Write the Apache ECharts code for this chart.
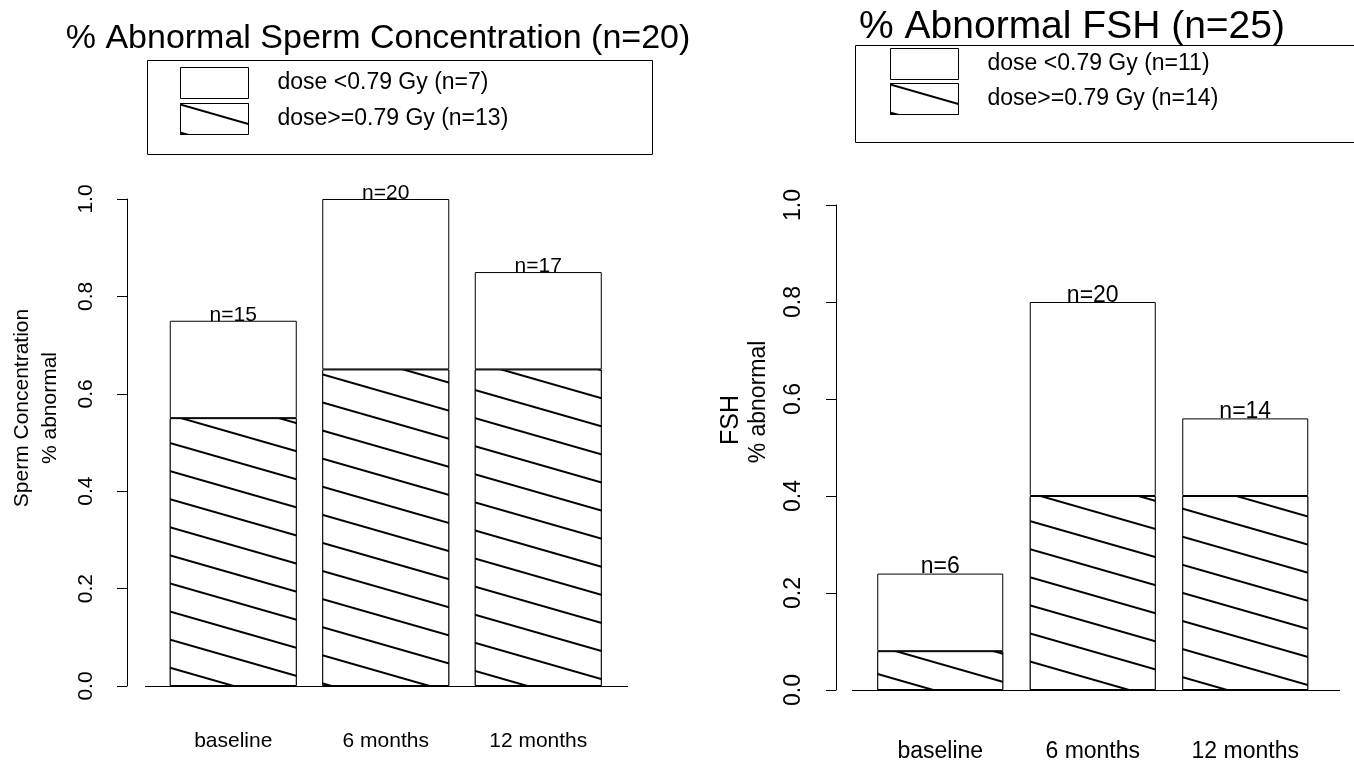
<!DOCTYPE html>
<html>
<head>
<meta charset="utf-8">
<script src="https://cdn.jsdelivr.net/npm/echarts@6/dist/echarts.min.js"></script>
<style>html,body{margin:0;padding:0;background:#fff}#c{width:1354px;height:763px}</style>
</head>
<body>
<div id="c"></div>
<script>
const categories = ['baseline', '6 months', '12 months'];
// Sperm concentration panel (fractions of n=20)
const spermHigh = [0.55, 0.65, 0.65];   // dose>=0.79 Gy (hatched, bottom)
const spermLow = [0.20, 0.35, 0.20];    // dose <0.79 Gy (white, top)
const spermN = ['n=15', 'n=20', 'n=17'];
// FSH panel (fractions of n=25)
const fshHigh = [0.08, 0.40, 0.40];
const fshLow = [0.16, 0.40, 0.16];
const fshN = ['n=6', 'n=20', 'n=14'];
const yTickLabels = ['0.0', '0.2', '0.4', '0.6', '0.8', '1.0'];

const spermNames = ['dose <0.79 Gy (n=7)', 'dose>=0.79 Gy (n=13)'];
const fshNames = ['dose <0.79 Gy (n=11)', 'dose>=0.79 Gy (n=14)'];

const FONT = 'Liberation Sans';
const hatch = {
  symbol: 'rect', symbolSize: 1, color: '#000', backgroundColor: '#fff',
  dashArrayX: [1, 0], dashArrayY: [1.4, 24.6], rotation: 16 * Math.PI / 180
};

function yAxisFor(gridIndex, offset, fs, margin) {
  return {
    type: 'value', gridIndex, min: 0, max: 1, interval: 0.2, offset,
    splitLine: {show: false},
    axisLine: {show: true, lineStyle: {color: '#000', width: 1}},
    axisTick: {show: true, length: 10, lineStyle: {color: '#000', width: 1}},
    axisLabel: {
      rotate: 90, margin, color: '#000', fontFamily: FONT, fontSize: fs,
      formatter: v => yTickLabels[Math.round(v / 0.2)]
    }
  };
}
function xAxisFor(gridIndex, margin, fs) {
  return {
    type: 'category', gridIndex, data: categories,
    axisLine: {show: false}, axisTick: {show: false},
    axisLabel: {margin, color: '#000', fontFamily: FONT, fontSize: fs}
  };
}
function seriesPair(idx, names, high, low, nLabels, bw, fs) {
  return [
    {
      type: 'bar', name: names[1], xAxisIndex: idx, yAxisIndex: idx, stack: 's' + idx,
      data: high, barWidth: bw,
      itemStyle: {color: '#fff', borderColor: '#000', borderWidth: 1, decal: hatch}
    },
    {
      type: 'bar', name: names[0], xAxisIndex: idx, yAxisIndex: idx, stack: 's' + idx,
      data: low, barWidth: bw,
      itemStyle: {color: '#fff', borderColor: '#000', borderWidth: 1},
      label: {
        show: true, position: 'top', distance: -5, color: '#000',
        fontFamily: FONT, fontSize: fs,
        formatter: p => nLabels[p.dataIndex]
      }
    }
  ];
}

const chart = echarts.init(document.getElementById('c'), null, {renderer: 'canvas'});
chart.setOption({
  backgroundColor: '#fff',
  animation: false,
  title: [
    {text: '% Abnormal Sperm Concentration (n=20)', left: 378, top: 22, padding: 0, textAlign: 'center',
     textStyle: {fontFamily: FONT, fontSize: 34, fontWeight: 'normal', color: '#000'}},
    {text: '% Abnormal FSH (n=25)', left: 1072, top: 8, padding: 0, textAlign: 'center',
     textStyle: {fontFamily: FONT, fontSize: 39, fontWeight: 'normal', color: '#000'}}
  ],
  legend: [
    {data: spermNames, orient: 'vertical', left: 180, top: 67, padding: 0, icon: 'rect',
     itemWidth: 68, itemHeight: 31, itemGap: 4, selectedMode: false,
     itemStyle: {borderColor: '#000', borderWidth: 1},
     textStyle: {fontFamily: FONT, fontSize: 23, color: '#000', padding: [0, 0, 0, 24]}},
    {data: fshNames, orient: 'vertical', left: 890, top: 48, padding: 0, icon: 'rect',
     itemWidth: 68, itemHeight: 31, itemGap: 3, selectedMode: false,
     itemStyle: {borderColor: '#000', borderWidth: 1},
     textStyle: {fontFamily: FONT, fontSize: 23, color: '#000', padding: [0, 0, 0, 24]}}
  ],
  grid: [
    {left: 157, top: 199, width: 457.5, height: 487},
    {left: 864, top: 205, width: 457.5, height: 485}
  ],
  xAxis: [xAxisFor(0, 45, 21), xAxisFor(1, 50, 23)],
  yAxis: [yAxisFor(0, 30, 21, 30), yAxisFor(1, 28, 23, 31)],
  series: [
    ...seriesPair(0, spermNames, spermHigh, spermLow, spermN, 127, 21),
    ...seriesPair(1, fshNames, fshHigh, fshLow, fshN, 126, 23)
  ],
  graphic: [
    {type: 'rect', shape: {x: 147.5, y: 60.5, width: 505, height: 94}, style: {fill: 'none', stroke: '#000', lineWidth: 1}, silent: true},
    {type: 'rect', shape: {x: 855.5, y: 45.5, width: 530, height: 97}, style: {fill: 'none', stroke: '#000', lineWidth: 1}, silent: true},
    {type: 'line', shape: {x1: 145, y1: 686.5, x2: 628, y2: 686.5}, style: {stroke: '#000', lineWidth: 1.2}, silent: true},
    {type: 'line', shape: {x1: 852, y1: 690.5, x2: 1340, y2: 690.5}, style: {stroke: '#000', lineWidth: 1.2}, silent: true},
    {type: 'text', x: 22, y: 408, rotation: Math.PI / 2,
     style: {text: 'Sperm Concentration', fontFamily: FONT, fontSize: 21, fill: '#000', textAlign: 'center', textVerticalAlign: 'middle'}},
    {type: 'text', x: 50, y: 408, rotation: Math.PI / 2,
     style: {text: '% abnormal', fontFamily: FONT, fontSize: 21, fill: '#000', textAlign: 'center', textVerticalAlign: 'middle'}},
    {type: 'text', x: 731, y: 420, rotation: Math.PI / 2,
     style: {text: 'FSH', fontFamily: FONT, fontSize: 25, fill: '#000', textAlign: 'center', textVerticalAlign: 'middle'}},
    {type: 'text', x: 759, y: 402, rotation: Math.PI / 2,
     style: {text: '% abnormal', fontFamily: FONT, fontSize: 23, fill: '#000', textAlign: 'center', textVerticalAlign: 'middle'}}
  ]
});
</script>
</body>
</html>
